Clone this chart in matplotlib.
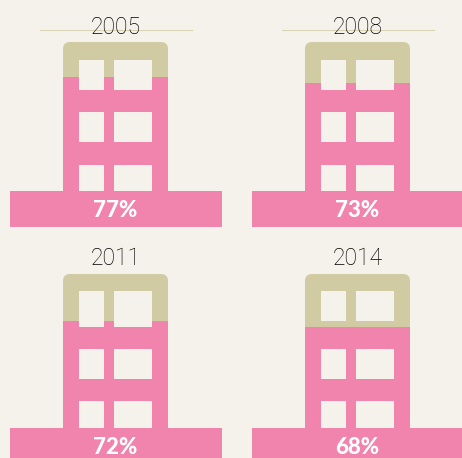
import matplotlib
matplotlib.use("Agg")
import matplotlib.pyplot as plt
from matplotlib.patches import FancyBboxPatch

# ── Data ──────────────────────────────────────────────────────
YEARS = ["2005", "2008", "2011", "2014"]
SHARE_LABELS = [77, 73, 72, 68]
# height of the pink part, percent of the building
FILL_LEVELS = [76.5, 72.5, 69.5, 65.6]

# ── Layout (pixels) ───────────────────────────────────────────
BG = "#f5f2eb"
PINK = "#f184ac"
KHAKI = "#d1cba4"
TEXT = "#000000"

PANEL_X = [0, 242, 0, 242]
BUILD_TOP = [42, 42, 274, 274]
BUILD_BOTTOM = [191, 191, 428, 428]
WINDOW_ROWS = [
    [(60, 90), (112, 142), (165, 191)],
    [(60, 90), (112, 142), (165, 191)],
    [(291, 327), (349, 379), (401, 428)],
    [(291, 321), (349, 379), (401, 428)],
]
WINDOW_COLS = [(79, 104), (114, 152)]
YEAR_Y = [27.5, 27.5, 258.5, 258.5]
LABEL_Y = [210.5, 210.5, 447.5, 447.5]

fig = plt.figure(figsize=(4.62, 4.58), dpi=100, facecolor=BG)
ax = fig.add_axes([0, 0, 1, 1])
ax.set_xlim(0, 462)
ax.set_ylim(458, 0)
ax.axis("off")

for i, year in enumerate(YEARS):
    dx = PANEL_X[i]
    top, bottom = BUILD_TOP[i], BUILD_BOTTOM[i]
    left, right = 63 + dx, 168 + dx
    height = bottom - top

    # building body with rounded roof
    ax.add_patch(FancyBboxPatch((left, top), right - left, height + 10,
                                boxstyle="round,pad=0,rounding_size=7",
                                fc=KHAKI, ec="none", zorder=1))
    # pink share of the building
    fill_h = height * FILL_LEVELS[i] / 100
    ax.bar(left, fill_h, width=right - left, bottom=bottom - fill_h,
           align="edge", color=PINK, zorder=2)

    # windows
    for y0, y1 in WINDOW_ROWS[i]:
        for x0, x1 in WINDOW_COLS:
            ax.bar(x0 + dx, y1 - y0, width=x1 - x0, bottom=y0,
                   align="edge", color=BG, zorder=3)

    # base band
    ax.bar(10 + dx, 36, width=212, bottom=bottom, align="edge", color=PINK, zorder=4)

    # rule behind the year, top row only
    if i < 2:
        ax.plot([40 + dx, 192 + dx], [29.5, 29.5], color="#d8d4b8", lw=0.8, zorder=1)

    ax.text(115.5 + dx, YEAR_Y[i], year, ha="center", va="center", color=TEXT,
            family="Roboto", weight="light", fontsize=16.5, zorder=5)
    ax.text(115.5 + dx, LABEL_Y[i], f"{SHARE_LABELS[i]}%", ha="center", va="center",
            color="white", family="Lato", weight="black", fontsize=16, zorder=5)

fig.savefig("out.png", dpi=100, facecolor=BG)
